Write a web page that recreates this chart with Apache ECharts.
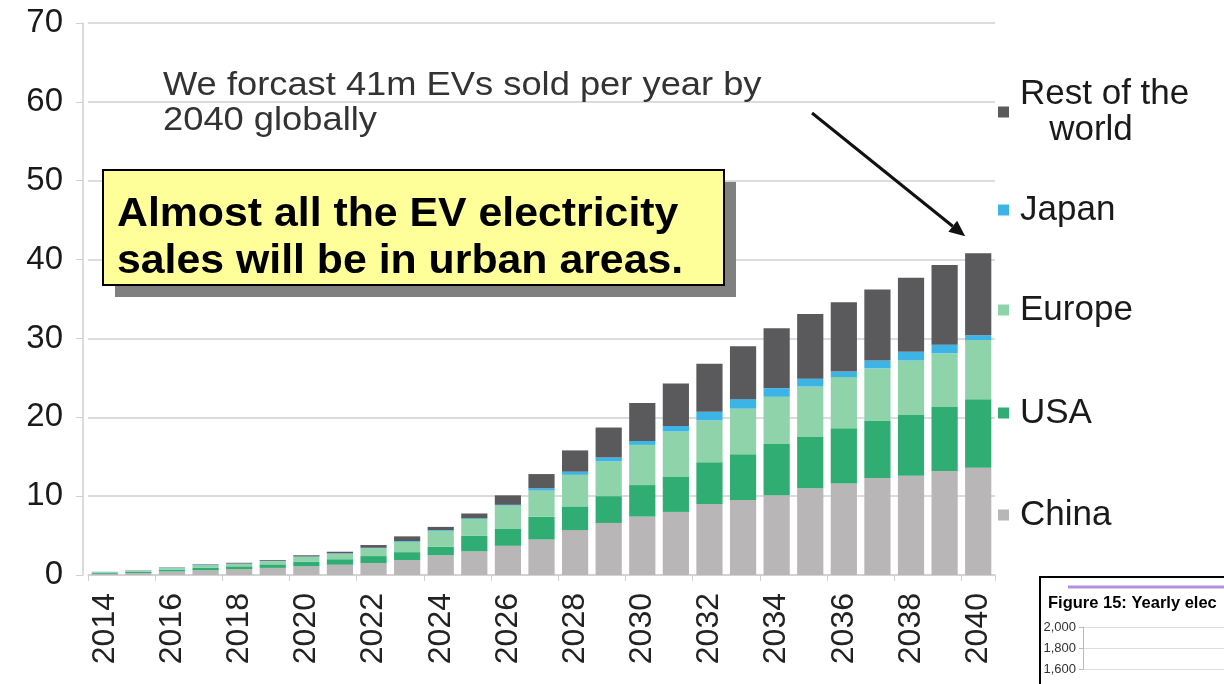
<!DOCTYPE html>
<html><head><meta charset="utf-8">
<script src="https://cdn.jsdelivr.net/npm/echarts@6/dist/echarts.min.js"></script>
<style>html,body{margin:0;padding:0;background:#fff}#c{width:1224px;height:684px}</style>
</head><body><div id="c"></div>
<script>
const years = ['2014','2015','2016','2017','2018','2019','2020','2021','2022','2023','2024','2025','2026','2027','2028','2029','2030','2031','2032','2033','2034','2035','2036','2037','2038','2039','2040'];
const china  = [0.15,0.25,0.45,0.6,0.75,0.9,1.1,1.3,1.5,1.9,2.5,3.0,3.7,4.5,5.7,6.6,7.4,8.0,9.0,9.5,10.1,11.0,11.6,12.3,12.6,13.2,13.6];
const usa    = [0.12,0.15,0.2,0.3,0.35,0.45,0.6,0.7,0.9,1.0,1.1,2.0,2.2,2.9,3.0,3.4,4.0,4.5,5.3,5.8,6.5,6.5,7.0,7.3,7.7,8.1,8.7];
const europe = [0.08,0.12,0.2,0.3,0.3,0.4,0.6,0.7,1.0,1.3,2.0,2.1,2.9,3.3,4.0,4.4,5.1,5.7,5.3,5.8,6.0,6.4,6.5,6.6,6.9,6.8,7.5];
const japan  = [0.03,0.03,0.05,0.07,0.05,0.05,0.05,0.05,0.05,0.1,0.1,0.1,0.1,0.3,0.4,0.5,0.5,0.7,1.1,1.2,1.1,1.0,0.7,1.0,1.1,1.1,0.6];
const rest   = [0.02,0.03,0.05,0.07,0.1,0.1,0.15,0.2,0.35,0.6,0.4,0.6,1.2,1.8,2.7,3.8,4.8,5.4,6.1,6.7,7.6,8.2,8.8,9.0,9.4,10.1,10.4];
const yTicks = {min: 0, max: 70, interval: 10};
const insetTicks = {min: 1600, max: 2000, interval: 200};
const seriesNames = ['China','USA','Europe','Japan','Rest of the world'];
const seriesColors = ['#b8b6b7','#30ad72','#8fd3ab','#3cb4e6','#5a5a5c'];
const seriesData = [china, usa, europe, japan, rest];

const FONT = '"Liberation Sans", Arial, Helvetica, sans-serif';
const chart = echarts.init(document.getElementById('c'), null, {renderer: 'canvas'});

function oneLegend(name, top, extra) {
  return Object.assign({
    data: [name], orient: 'vertical', left: 998, top: top, padding: 0,
    itemWidth: 11, itemHeight: 11, icon: 'rect', selectedMode: false,
    textStyle: {fontFamily: FONT, fontSize: 35, lineHeight: 36, color: '#1a1a1a', padding: [0,0,0,6]}
  }, extra || {});
}

const option = {
  animation: false,
  backgroundColor: '#ffffff',
  grid: [
    {left: 88, right: 229, top: 23, bottom: 109},
    {left: 1083, right: 0, top: 627, height: 42}
  ],
  legend: [
    oneLegend('Rest of the world', 58, {
      formatter: () => 'Rest of the\n   world',
      textStyle: {fontFamily: FONT, fontSize: 35, lineHeight: 36, color: '#1a1a1a', padding: [36,0,0,6]}
    }),
    oneLegend('Japan', 192),
    oneLegend('Europe', 292),
    oneLegend('USA', 395),
    oneLegend('China', 497)
  ],
  xAxis: [
    {
      type: 'category', data: years, gridIndex: 0,
      axisLine: {lineStyle: {color: '#cfcfcf', width: 1.5}},
      axisTick: {show: true, length: 6, lineStyle: {color: '#cfcfcf'}},
      axisLabel: {rotate: 90, interval: 1, margin: 18, fontFamily: FONT, fontSize: 32, color: '#222'}
    },
    {type: 'category', data: [''], gridIndex: 1, show: false}
  ],
  yAxis: [
    {
      type: 'value', gridIndex: 0, min: yTicks.min, max: yTicks.max, interval: yTicks.interval,
      offset: 5,
      axisLine: {show: true, lineStyle: {color: '#cfcfcf', width: 1.5}},
      axisTick: {show: true, length: 7, lineStyle: {color: '#cfcfcf'}},
      splitLine: {lineStyle: {color: '#dcdcdc', width: 2}},
      axisLabel: {margin: 20, fontFamily: FONT, fontSize: 33, color: '#1a1a1a'}
    },
    {
      type: 'value', gridIndex: 1, min: insetTicks.min, max: insetTicks.max, interval: insetTicks.interval,
      axisLine: {show: true, lineStyle: {color: '#bbbbbb'}},
      axisTick: {show: true, length: 4, lineStyle: {color: '#bbbbbb'}},
      splitLine: {lineStyle: {color: '#dddddd'}},
      axisLabel: {margin: 7, fontFamily: FONT, fontSize: 13, color: '#333',
        formatter: v => v.toLocaleString('en-US')}
    }
  ],
  series: seriesNames.map((n, i) => ({
    name: n, type: 'bar', stack: 'total', xAxisIndex: 0, yAxisIndex: 0,
    barCategoryGap: '22%', data: seriesData[i],
    itemStyle: {color: seriesColors[i]},
    emphasis: {disabled: true}
  }))
};
chart.setOption(option);

// Anchor the arrow tip just above the 2040 total bar
const lastIdx = years.length - 1;
const total2040 = china[lastIdx] + usa[lastIdx] + europe[lastIdx] + japan[lastIdx] + rest[lastIdx];
const tipPx = chart.convertToPixel({gridIndex: 0}, [years[lastIdx], total2040]);
const tip = [tipPx[0] - 13, tipPx[1] - 17];
const start = [812, 113];
const dx = tip[0] - start[0], dy = tip[1] - start[1];
const len = Math.sqrt(dx*dx + dy*dy), ux = dx/len, uy = dy/len;
const hl = 16, hw = 7;
const base = [tip[0] - ux*hl, tip[1] - uy*hl];
const head = [tip, [base[0] - uy*hw, base[1] + ux*hw], [base[0] + uy*hw, base[1] - ux*hw]];

chart.setOption({
  graphic: [
    {type: 'rect', shape: {x: 115, y: 182, width: 621, height: 115}, style: {fill: '#808080'}, z: 10},
    {type: 'rect', shape: {x: 103, y: 170, width: 621, height: 115}, style: {fill: '#ffff99', stroke: '#000', lineWidth: 2}, z: 11},
    {type: 'text', x: 117, y: 215, scaleX: 1.07, z: 12,
      style: {text: 'Almost all the EV electricity', fontFamily: FONT, fontWeight: 'bold', fontSize: 40, fill: '#000', verticalAlign: 'middle'}},
    {type: 'text', x: 117, y: 262, scaleX: 1.07, z: 12,
      style: {text: 'sales will be in urban areas.', fontFamily: FONT, fontWeight: 'bold', fontSize: 40, fill: '#000', verticalAlign: 'middle'}},
    {type: 'text', x: 163, y: 86, scaleX: 1.1, z: 12,
      style: {text: 'We forcast 41m EVs sold per year by', fontFamily: FONT, fontSize: 33, fill: '#333', verticalAlign: 'middle'}},
    {type: 'text', x: 163, y: 121, scaleX: 1.1, z: 12,
      style: {text: '2040 globally', fontFamily: FONT, fontSize: 33, fill: '#333', verticalAlign: 'middle'}},
    {type: 'line', shape: {x1: start[0], y1: start[1], x2: base[0], y2: base[1]}, style: {stroke: '#111', lineWidth: 3}, z: 12},
    {type: 'polygon', shape: {points: head}, style: {fill: '#111'}, z: 12},
    {type: 'rect', shape: {x: 1040, y: 577, width: 200, height: 120}, style: {fill: 'none', stroke: '#000', lineWidth: 2}, z: 12},
    {type: 'line', shape: {x1: 1068, y1: 587, x2: 1230, y2: 587}, style: {stroke: '#b48fdb', lineWidth: 3}, z: 12},
    {type: 'text', x: 1048, y: 603, z: 12,
      style: {text: 'Figure 15: Yearly elec', fontFamily: FONT, fontWeight: 'bold', fontSize: 16.5, fill: '#000', verticalAlign: 'middle'}}
  ]
});
</script>
</body></html>
